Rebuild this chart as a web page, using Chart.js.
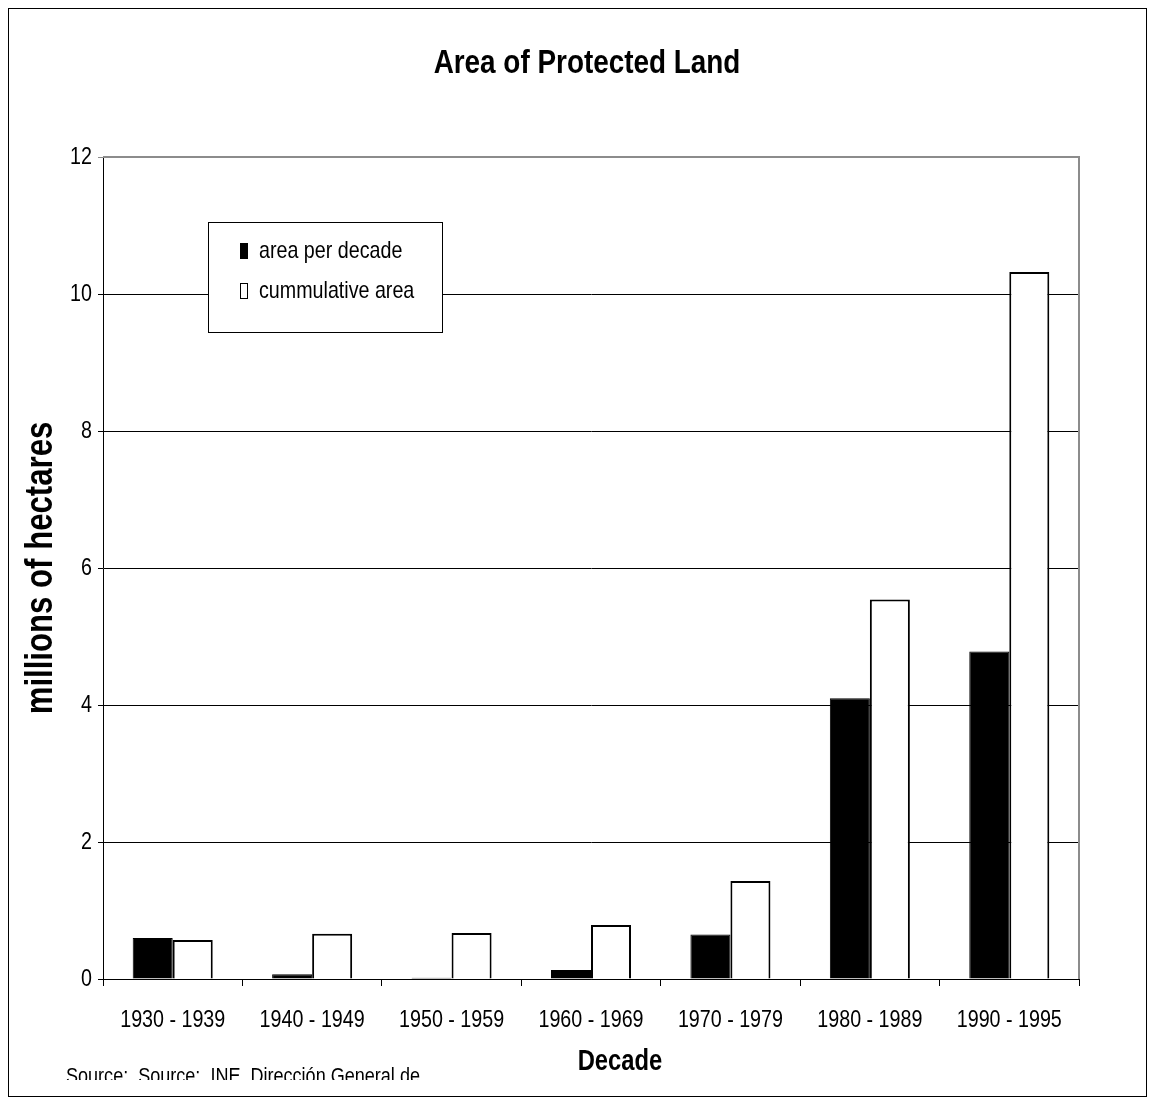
<!DOCTYPE html>
<html>
<head>
<meta charset="utf-8">
<title>Area of Protected Land</title>
<script src="https://cdn.jsdelivr.net/npm/chart.js@4.4.1/dist/chart.umd.min.js"></script>
<style>
    html, body { margin: 0; padding: 0; background: #fff; }
    #wrap { position: relative; width: 1155px; height: 1107px; }
</style>
</head>
<body>
<div id="wrap"><canvas id="landChart" width="1155" height="1107"></canvas></div>
<script>
// Decades shown on the x axis
var categories = ['1930 - 1939', '1940 - 1949', '1950 - 1959', '1960 - 1969', '1970 - 1979', '1980 - 1989', '1990 - 1995'];
// millions of hectares
var areaPerDecade = [0.60, 0.07, 0.02, 0.13, 0.65, 4.10, 4.78];
var cumulativeArea = [0.57, 0.66, 0.67, 0.79, 1.43, 5.54, 10.32];
var yTicks = [0, 2, 4, 6, 8, 10, 12];

(function() {
    'use strict';

    // No Arial Narrow here: squeeze Liberation Sans horizontally instead
    var FONT = "'Liberation Sans', Arial, sans-serif";
    var SQUEEZE = 0.82;

    function narrowText(ctx, text, x, y, opts) {
        ctx.save();
        ctx.translate(x, y);
        if (opts.rotate) ctx.rotate(opts.rotate);
        ctx.scale(SQUEEZE, 1);
        ctx.font = (opts.bold ? 'bold ' : '') + opts.size + 'px ' + FONT;
        ctx.textAlign = opts.align || 'center';
        ctx.textBaseline = opts.baseline || 'middle';
        ctx.fillStyle = '#000';
        ctx.fillText(text, 0, 0);
        ctx.restore();
    }

    // Frame, plot border, legend box and all texts (drawn narrow like the original)
    var decor = {
        id: 'decor',
        afterDraw: function(chart) {
            var ctx = chart.ctx;
            var area = chart.chartArea;
            var xs = chart.scales.x;
            var ys = chart.scales.y;
            ctx.save();

            // grey plot-area border on top and right
            ctx.strokeStyle = '#8c8c8c';
            ctx.lineWidth = 2;
            ctx.beginPath();
            ctx.moveTo(area.left, area.top);
            ctx.lineTo(area.right, area.top);
            ctx.lineTo(area.right, area.bottom);
            ctx.stroke();

            // outer chart frame
            ctx.strokeStyle = '#000';
            ctx.lineWidth = 1;
            ctx.strokeRect(8.5, 8.5, 1138, 1088);

            // title
            narrowText(ctx, 'Area of Protected Land', 587, 64, { size: 34, bold: true });

            // y tick labels
            ys.ticks.forEach(function(t) {
                narrowText(ctx, String(t.value), ys.right - 11, ys.getPixelForValue(t.value),
                    { size: 24, align: 'right' });
            });

            // x tick labels
            categories.forEach(function(label, i) {
                narrowText(ctx, label, xs.getPixelForTick(i), 1020, { size: 24 });
            });

            // axis titles
            narrowText(ctx, 'millions of hectares', 42, (area.top + area.bottom) / 2,
                { size: 38, bold: true, rotate: -Math.PI / 2 });
            narrowText(ctx, 'Decade', 620, 1062, { size: 29, bold: true });

            // legend
            ctx.fillStyle = '#fff';
            ctx.fillRect(208.5, 222.5, 234, 110);
            ctx.strokeStyle = '#000';
            ctx.lineWidth = 1;
            ctx.strokeRect(208.5, 222.5, 234, 110);
            chart.data.datasets.forEach(function(ds, i) {
                var y = 251 + i * 40;
                ctx.fillStyle = ds.backgroundColor;
                ctx.fillRect(240, y - 8, 8, 16);
                ctx.strokeStyle = '#000';
                ctx.strokeRect(240.5, y - 7.5, 7, 15);
                narrowText(ctx, ds.label, 259, y, { size: 24, align: 'left' });
            });

            // source note, cut off at the bottom
            ctx.beginPath();
            ctx.rect(10, 1040, 600, 40);
            ctx.clip();
            narrowText(ctx, 'Source:  Source:  INE, Direcci\u00f3n General de', 66, 1083,
                { size: 22, align: 'left', baseline: 'alphabetic' });

            ctx.restore();
        }
    };

    var ctx = document.getElementById('landChart');
    new Chart(ctx, {
        type: 'bar',
        data: {
            labels: categories,
            datasets: [{
                label: 'area per decade',
                data: areaPerDecade,
                backgroundColor: '#000',
                borderColor: '#000',
                borderWidth: 1
            }, {
                label: 'cummulative area',
                data: cumulativeArea,
                backgroundColor: '#fff',
                borderColor: '#000',
                borderWidth: 2
            }]
        },
        options: {
            responsive: false,
            animation: false,
            devicePixelRatio: 1,
            layout: { padding: { left: 0, right: 76, top: 157, bottom: 0 } },
            datasets: {
                bar: { categoryPercentage: 0.574, barPercentage: 1.0 }
            },
            plugins: {
                legend: { display: false },
                tooltip: { enabled: false },
                title: { display: false }
            },
            scales: {
                x: {
                    afterFit: function(scale) { scale.height = 128; },
                    grid: {
                        offset: true,
                        drawOnChartArea: false,
                        drawTicks: true,
                        tickLength: 7,
                        color: '#000'
                    },
                    border: { color: '#000', width: 1 },
                    ticks: { display: false, autoSkip: false }
                },
                y: {
                    min: 0,
                    max: 12,
                    afterFit: function(scale) { scale.width = 103; },
                    afterBuildTicks: function(axis) {
                        axis.ticks = yTicks.map(function(v) { return { value: v }; });
                    },
                    grid: {
                        color: function(c) { return c.tick && c.tick.value === 12 ? '#8c8c8c' : '#000'; },
                        lineWidth: 1,
                        drawTicks: true,
                        tickLength: 5
                    },
                    border: { color: '#000', width: 1 },
                    ticks: { display: false }
                }
            }
        },
        plugins: [decor]
    });
})();
</script>
</body>
</html>
